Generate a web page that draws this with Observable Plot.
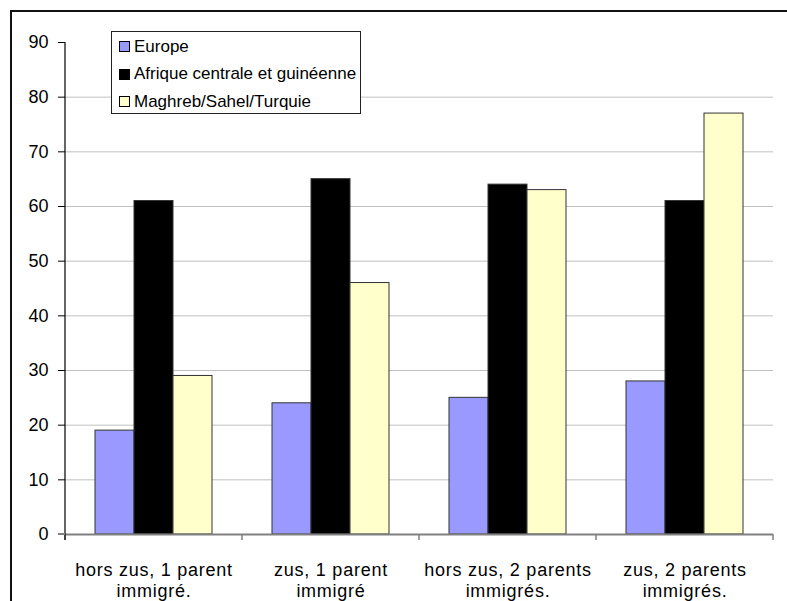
<!DOCTYPE html>
<html>
<head>
<meta charset="utf-8">
<script src="https://cdn.jsdelivr.net/npm/d3@7"></script>
<script src="https://cdn.jsdelivr.net/npm/@observablehq/plot@0.6"></script>
<style>
  html, body { margin: 0; padding: 0; background: #fff; overflow: hidden; }
  #wrap { position: relative; width: 787px; height: 601px; overflow: hidden; font-family: "Liberation Sans", Arial, sans-serif; }
  #frame { position: absolute; left: 10px; top: 10px; width: 900px; height: 800px; border-left: 2px solid #111; border-top: 2px solid #111; box-sizing: border-box; }
  #chart { position: absolute; left: 0; top: 0; }
  #legend { position: absolute; left: 111px; top: 31px; width: 250px; height: 83px; box-sizing: border-box; border: 1px solid #222; background: #fff; padding-top: 1px; }
  .row { display: flex; align-items: center; height: 27.5px; font-size: 17px; color: #000; }
  .sw { width: 9px; height: 9px; border: 1px solid #000; margin-left: 7px; margin-right: 4px; box-sizing: content-box; }
</style>
</head>
<body>
<div id="wrap">
  <div id="frame"></div>
  <div id="chart"></div>
  <div id="legend"></div>
</div>
<script>
const categories = ["hors zus, 1 parent immigré.", "zus, 1 parent immigré", "hors zus, 2 parents immigrés.", "zus, 2 parents immigrés."];
const categoryLabels = ["hors zus, 1 parent\nimmigré.", "zus, 1 parent\nimmigré", "hors zus, 2 parents\nimmigrés.", "zus, 2 parents\nimmigrés."];
const series = ["Europe", "Afrique centrale et guinéenne", "Maghreb/Sahel/Turquie"];
const europe = [19, 24, 25, 28];
const afrique = [61, 65, 64, 61];
const maghreb = [29, 46, 63, 77];
const colors = ["#9999FF", "#000000", "#FFFFCC"];
const yTicks = [0, 10, 20, 30, 40, 50, 60, 70, 80, 90];

const seriesValues = [europe, afrique, maghreb];
const data = [];
categories.forEach((c, i) => {
  series.forEach((s, j) => data.push({category: c, series: s, value: seriesValues[j][i]}));
});

const chart = Plot.plot({
  width: 787,
  height: 601,
  marginLeft: 64,
  marginRight: 14,
  marginTop: 42,
  marginBottom: 67,
  style: {fontFamily: "'Liberation Sans', Arial, sans-serif", fontSize: "18px", background: "transparent", color: "#000"},
  fx: {domain: categories, padding: 0, label: null},
  x: {domain: series, paddingInner: 0, paddingOuter: 0.74, axis: null},
  y: {domain: [0, 90], label: null},
  color: {domain: series, range: colors},
  marks: [
    Plot.gridY(yTicks.filter(t => t > 0 && t < 90), {stroke: "#c0c0c0", strokeOpacity: 1, strokeWidth: 1}),
    Plot.barY(data, {fx: "category", x: "series", y: "value", fill: "series", stroke: "#333", strokeWidth: 1}),
    Plot.ruleY([0], {stroke: "#808080", strokeWidth: 2}),
    Plot.axisY({ticks: yTicks, tickSize: 7, tickPadding: 10, fontSize: 18, stroke: "#000", strokeOpacity: 1, label: null}),
    Plot.axisFx({anchor: "bottom", tickSize: 0, tickPadding: 27, fontSize: 18, lineHeight: 1.15, label: null, tickFormat: c => categoryLabels[categories.indexOf(c)]})
  ]
});
document.getElementById("chart").appendChild(chart);

// Slightly wider category labels, as in the original
d3.select(chart).selectAll('g[aria-label="fx-axis tick label"] text').style("letter-spacing", "0.75px");

// Excel-style boundary ticks and axis line, positioned with Plot's own scales
const fx = chart.scale("fx");
const y = chart.scale("y");
const svg = d3.select(chart);
const y0 = y.apply(0);
const bounds = categories.map(c => fx.apply(c)).concat([fx.apply(categories[categories.length - 1]) + fx.bandwidth]);
svg.append("g").selectAll("line").data(bounds).join("line")
  .attr("x1", d => d).attr("x2", d => d)
  .attr("y1", y0).attr("y2", y0 + 6)
  .attr("stroke", "#808080").attr("stroke-width", 1.5);
svg.append("line")
  .attr("x1", bounds[0]).attr("x2", bounds[0])
  .attr("y1", y.apply(90)).attr("y2", y0 + 6)
  .attr("stroke", "#000").attr("stroke-width", 1.2);
svg.append("line")
  .attr("x1", bounds[0] - 7).attr("x2", bounds[0])
  .attr("y1", y0).attr("y2", y0)
  .attr("stroke", "#808080").attr("stroke-width", 2);

// Legend (inside plot area, like the original)
const legend = d3.select("#legend");
series.forEach((s, j) => {
  const row = legend.append("div").attr("class", "row");
  row.append("div").attr("class", "sw").style("background", colors[j]);
  row.append("span").text(s);
});
</script>
</body>
</html>
